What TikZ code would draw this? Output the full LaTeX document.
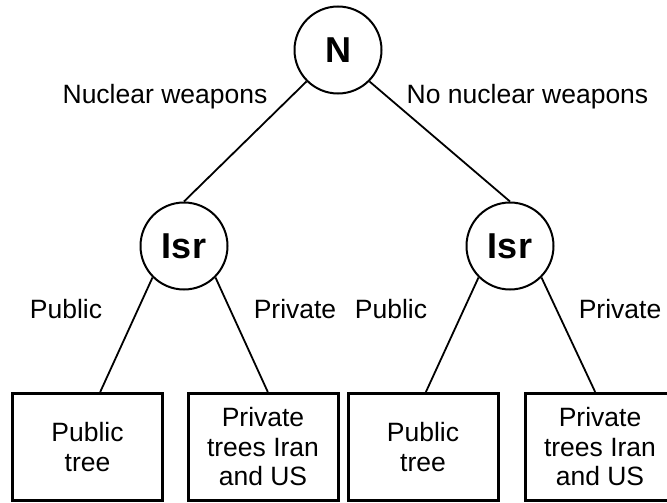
\documentclass[tikz,border=0pt]{standalone}
\usepackage{fontspec}
\setmainfont{Liberation Sans}
\begin{document}
\begin{tikzpicture}[x=1pt,y=-1pt,
  decision/.style={circle,draw,line width=2pt,inner sep=0pt,minimum size=87pt,font=\fontsize{36}{40}\selectfont\bfseries},
  leaf/.style={rectangle,draw,line width=3pt,inner sep=0pt,minimum width=150pt,minimum height=107pt,align=center,font=\fontsize{26.5}{29.5}\selectfont},
  lbl/.style={anchor=base,inner sep=0pt,font=\fontsize{26.5}{30}\selectfont},
  edge/.style={line width=1.8pt}]
\useasboundingbox (0,0) rectangle (667,503);
\node[decision] (n) at (338,50) {N};
\node[decision] (il) at (184,246) {Isr};
\node[decision] (ir) at (510,246) {Isr};
\node[leaf] (b1) at (87.5,447) {Public\\tree};
\node[leaf] (b2) at (263,447) {Private\\trees Iran\\and US};
\node[leaf] (b3) at (423,447) {Public\\tree};
\node[leaf] (b4) at (600,447) {Private\\trees Iran\\and US};
\draw[edge] (n.south west) -- (il.north);
\draw[edge] (n.south east) -- (ir.north);
\draw[edge] (il.south west) -- (b1.77);
\draw[edge] (il.south east) -- (b2.85);
\draw[edge] (ir.south west) -- (b3.87);
\draw[edge] (ir.south east) -- (b4.95);
\node[lbl] (t1) at (165,103) {Nuclear weapons};
\node[lbl] (t2) at (527.5,103) {No nuclear weapons};
\node[lbl] (t3) at (66,318) {Public};
\node[lbl] (t4) at (295,318) {Private};
\node[lbl] (t5) at (391,318) {Public};
\node[lbl] (t6) at (620,318) {Private};
\end{tikzpicture}
\end{document}
